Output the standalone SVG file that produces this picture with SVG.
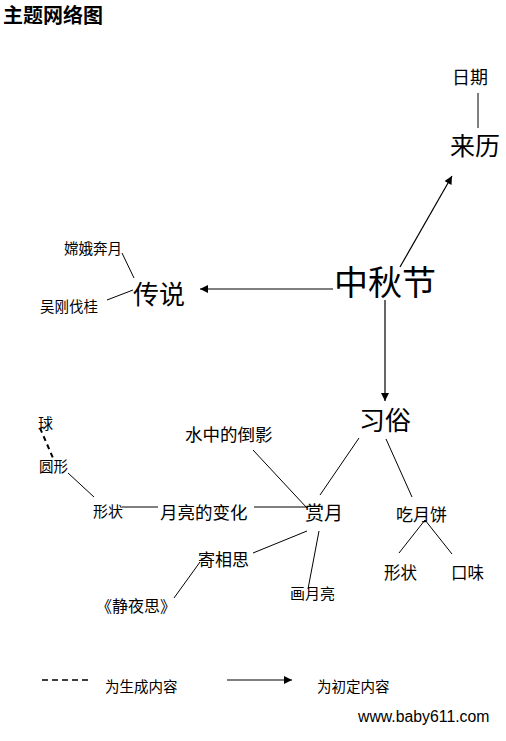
<svg xmlns="http://www.w3.org/2000/svg" width="506" height="741" viewBox="0 0 506 741">
<defs>
<marker id="ah" viewBox="0 0 10 10" refX="10" refY="5" markerWidth="10" markerHeight="8" markerUnits="userSpaceOnUse" orient="auto">
<path d="M0,0 L10,5 L0,10 z" fill="#000"/>
</marker>
<style>
text{font-family:"Noto Sans CJK SC","Liberation Sans",sans-serif;fill:#000}
text.url{font-family:"Liberation Sans",Arial,sans-serif}
.l{stroke:#000;stroke-width:1;fill:none}
.a{stroke:#000;stroke-width:1.2;fill:none;marker-end:url(#ah)}
.d{stroke:#000;stroke-width:2;stroke-dasharray:5,4;fill:none}
</style>
</defs>
<rect width="506" height="741" fill="#fff"/>
<text x="3" y="23" font-size="20" font-weight="bold">主题网络图</text>
<g id="connectors">
<line class="a" x1="400" y1="267" x2="452" y2="176"/>
<line class="a" x1="333" y1="289" x2="200" y2="289"/>
<line class="a" x1="385" y1="300" x2="385" y2="401"/>
<line class="l" x1="478" y1="93" x2="478" y2="128"/>
<line class="l" x1="122" y1="253" x2="134" y2="278"/>
<line class="l" x1="107" y1="300" x2="133" y2="290"/>
<line class="l" x1="253" y1="450" x2="307" y2="508"/>
<line class="l" x1="359" y1="438" x2="320" y2="495"/>
<line class="l" x1="386" y1="439" x2="412" y2="497"/>
<line class="l" x1="425" y1="520" x2="399" y2="553"/>
<line class="l" x1="425" y1="520" x2="452" y2="554"/>
<line class="l" x1="307" y1="531" x2="253" y2="553"/>
<line class="l" x1="319" y1="531" x2="308" y2="589"/>
<line class="l" x1="200" y1="562" x2="174" y2="598"/>
<line class="l" x1="122" y1="507" x2="158" y2="507"/>
<line class="l" x1="254" y1="507" x2="307" y2="507"/>
<line class="l" x1="68" y1="473" x2="94" y2="497"/>
<line class="d" x1="40" y1="428" x2="53" y2="458"/>
</g>
<g id="n-riqi"><text x="452" y="84" font-size="18">日期</text></g>
<g id="n-laili"><text x="450" y="155" font-size="25">来历</text></g>
<g id="n-zhongqiu"><text x="334" y="295" font-size="34">中秋节</text></g>
<g id="n-chuanshuo"><text x="133" y="304" font-size="26">传说</text></g>
<g id="n-change"><text x="64" y="254" font-size="14.5">嫦娥奔月</text></g>
<g id="n-wugang"><text x="40" y="312" font-size="14.5">吴刚伐桂</text></g>
<g id="n-xisu"><text x="359" y="430" font-size="26">习俗</text></g>
<g id="n-shuizhong"><text x="185" y="441" font-size="17.5">水中的倒影</text></g>
<g id="n-shangyue"><text x="305" y="520" font-size="19">赏月</text></g>
<g id="n-chiyuebing"><text x="396" y="521" font-size="17">吃月饼</text></g>
<g id="n-xingzhuang2"><text x="384" y="579" font-size="16.5">形状</text></g>
<g id="n-kouwei"><text x="451" y="579" font-size="16.5">口味</text></g>
<g id="n-jixiangsi"><text x="198" y="566" font-size="17">寄相思</text></g>
<g id="n-huayueliang"><text x="290" y="599" font-size="15">画月亮</text></g>
<g id="n-jingyesi"><text x="96" y="612" font-size="16">《静夜思》</text></g>
<g id="n-yueliang"><text x="160" y="519" font-size="17.5">月亮的变化</text></g>
<g id="n-xingzhuang1"><text x="93" y="517" font-size="15">形状</text></g>
<g id="n-yuanxing"><text x="39" y="472" font-size="14.5">圆形</text></g>
<g id="n-qiu"><text x="38" y="429" font-size="15">球</text></g>
<g id="legend">
<line class="d" x1="42" y1="680" x2="92" y2="680" style="stroke-width:1.5;stroke-dasharray:6,4"/>
<text x="105" y="692" font-size="14.5">为生成内容</text>
<line class="a" x1="227" y1="680" x2="292" y2="680"/>
<text x="317" y="692" font-size="14.5">为初定内容</text>
<text class="url" x="358" y="722" font-size="15.8">www.baby611.com</text>
</g>
</svg>
